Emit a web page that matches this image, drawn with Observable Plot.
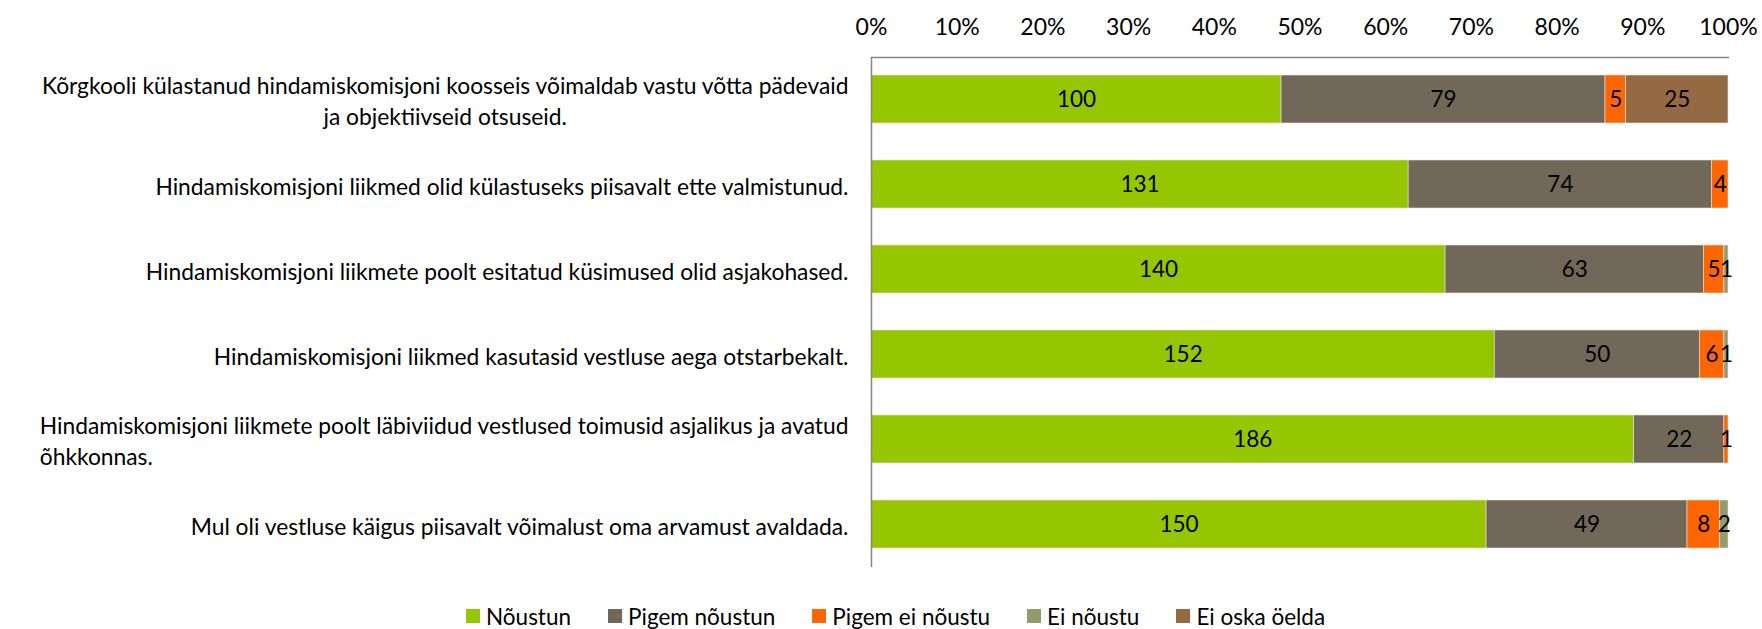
<!DOCTYPE html>
<html>
<head>
<meta charset="utf-8">
<script src="https://cdn.jsdelivr.net/npm/d3@7"></script>
<script src="https://cdn.jsdelivr.net/npm/@observablehq/plot@0.6"></script>
<style>
  html, body { margin: 0; padding: 0; background: #fff; }
  body { width: 1762px; height: 629px; overflow: hidden; font-family: Lato, sans-serif; }
  #legend { display: flex; justify-content: flex-start; align-items: center; height: 26px; gap: 37px; padding-left: 466px; font-size: 22.5px; color: #000; }
  #legend .item { display: flex; align-items: center; gap: 6px; }
  #legend .sw { width: 14px; height: 14px; display: inline-block; }
</style>
</head>
<body>
<div id="chart"></div>
<div id="legend"></div>
<script>
const questions = [
  "Kõrgkooli külastanud hindamiskomisjoni koosseis võimaldab vastu võtta pädevaid\nja objektiivseid otsuseid.",
  "Hindamiskomisjoni liikmed olid külastuseks piisavalt ette valmistunud.",
  "Hindamiskomisjoni liikmete poolt esitatud küsimused olid asjakohased.",
  "Hindamiskomisjoni liikmed kasutasid vestluse aega otstarbekalt.",
  "Hindamiskomisjoni liikmete poolt läbiviidud vestlused toimusid asjalikus ja avatud\nõhkkonnas.",
  "Mul oli vestluse käigus piisavalt võimalust oma arvamust avaldada."
];
const categories = ["Nõustun", "Pigem nõustun", "Pigem ei nõustu", "Ei nõustu", "Ei oska öelda"];
const colors = ["#96C600", "#72685A", "#FF6600", "#949B6B", "#946A43"];
const nõustun = [100, 131, 140, 152, 186, 150];
const pigemNõustun = [79, 74, 63, 50, 22, 49];
const pigemEiNõustu = [5, 4, 5, 6, 1, 8];
const eiNõustu = [0, 0, 1, 1, 0, 2];
const eiOskaÖelda = [25, 0, 0, 0, 0, 0];
const xTicks = [0, 0.1, 0.2, 0.3, 0.4, 0.5, 0.6, 0.7, 0.8, 0.9, 1];
const secondLineAlign = ["middle", null, null, null, "start", null];

const series = [nõustun, pigemNõustun, pigemEiNõustu, eiNõustu, eiOskaÖelda];
const data = [];
questions.forEach((q, i) => {
  categories.forEach((c, j) => {
    data.push({question: q, category: c, value: series[j][i]});
  });
});
const labelled = data.filter(d => d.value > 0);

const FONT = "Lato, sans-serif";
const plot = Plot.plot({
  width: 1762,
  height: 603,
  marginLeft: 871,
  marginRight: 34,
  marginTop: 57,
  marginBottom: 36,
  style: {fontFamily: FONT, fontSize: "23px", color: "#000", background: "#fff"},
  x: {domain: [0, 1], axis: null},
  y: {domain: questions, axis: null, paddingInner: 0.435, paddingOuter: 0.2175},
  color: {domain: categories, range: colors},
  marks: [
    Plot.barX(data, Plot.stackX({
      x: "value", y: "question", z: "category", fill: "category",
      offset: "normalize", order: categories,
      stroke: "#e4e4e4", strokeWidth: 0.6
    })),
    Plot.text(labelled, Plot.stackX({
      x: "value", y: "question", z: "category", text: d => String(d.value),
      offset: "normalize", order: categories,
      fill: "#000", fontSize: 22.5
    })),
    Plot.ruleX([0], {stroke: "#868686", strokeWidth: 1.5}),
    Plot.frame({anchor: "top", stroke: "#868686", strokeWidth: 1.5}),
    Plot.axisX({anchor: "top", ticks: xTicks, tickFormat: d3.format(".0%"), tickSize: 0, tickPadding: 23, fontSize: 23, label: null}),
    Plot.text(questions, {
      y: d => d, text: d => d, frameAnchor: "left", textAnchor: "end",
      dx: -23, lineHeight: 1.37, fontSize: 22.8, fill: "#000"
    })
  ]
});
document.getElementById("chart").appendChild(plot);

// align second lines of wrapped category labels
const multi = Array.from(plot.querySelectorAll("text")).filter(t => t.querySelectorAll("tspan").length > 1);
multi.forEach(t => {
  const full = Array.from(t.querySelectorAll("tspan")).map(s => s.textContent).join("\n");
  const idx = questions.indexOf(full);
  if (idx < 0) return;
  const align = secondLineAlign[idx];
  const spans = t.querySelectorAll("tspan");
  const w = spans[0].getComputedTextLength();
  if (align === "middle") {
    spans[1].setAttribute("x", -w / 2);
    spans[1].setAttribute("text-anchor", "middle");
  } else if (align === "start") {
    spans[1].setAttribute("x", -w);
    spans[1].setAttribute("text-anchor", "start");
  }
});

const legend = document.getElementById("legend");
categories.forEach((c, i) => {
  const item = document.createElement("span");
  item.className = "item";
  const sw = document.createElement("span");
  sw.className = "sw";
  sw.style.background = colors[i];
  const lab = document.createElement("span");
  lab.textContent = c;
  item.appendChild(sw);
  item.appendChild(lab);
  legend.appendChild(item);
});
</script>
</body>
</html>
